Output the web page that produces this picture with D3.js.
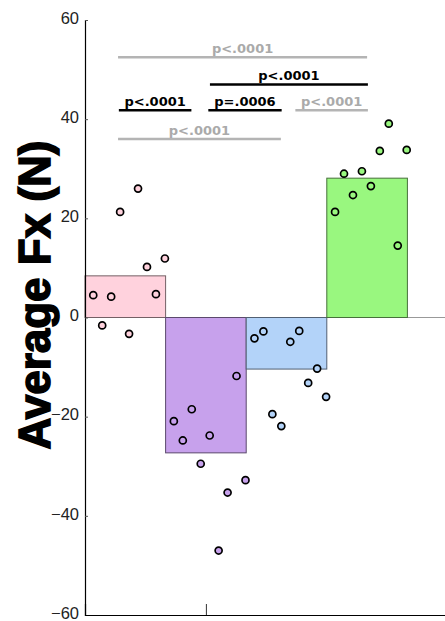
<!DOCTYPE html>
<html>
<head>
<meta charset="utf-8">
<script src="https://cdn.jsdelivr.net/npm/d3@7"></script>
<style>
  body { margin: 0; background: #fff; }
  svg { display: block; }
</style>
</head>
<body>
<script>
// Data
const groups = ["A", "B", "C", "D"];
const groupColors = ["#ffd2dd", "#c7a1ec", "#b3d3f9", "#99f77f"];
const barMeans = [8.4, -27.3, -10.4, 28.1];

// individual points, left to right inside each bar
const ptsA = [4.5, -1.6, 4.2, 21.3, -3.3, 26.0, 10.2, 4.7, 11.9];
const ptsB = [-20.9, -24.8, -18.5, -29.5, -23.8, -47.0, -35.3, -11.8, -32.8];
const ptsC = [-4.2, -2.8, -19.5, -21.9, -4.9, -2.7, -13.2, -10.3, -16.0];
const ptsD = [21.3, 29.0, 24.7, 29.5, 26.5, 33.6, 39.1, 14.5, 33.8];
const points = [ptsA, ptsB, ptsC, ptsD];

// significance brackets
const sigLabels = ["p<.0001", "p<.0001", "p<.0001", "p=.0006", "p<.0001", "p<.0001"];
const sigFrom = [0.91, 2.05, 0.92, 2.03, 3.11, 0.91];
const sigTo = [4.0, 4.01, 1.82, 2.94, 4.01, 2.93];
const sigLevel = [52.5, 47.0, 41.8, 41.8, 41.8, 36.0];
const sigStrong = [false, true, true, true, false, false];

const yTicks = [-60, -40, -20, 0, 20, 40, 60];

// Layout
const width = 445, height = 621;

const svg = d3.select("body").append("svg")
  .attr("width", width)
  .attr("height", height);

const x = d3.scaleLinear().domain([0.5, 5]).range([85, 447.7]);
const y = d3.scaleLinear().domain([-60, 60]).range([615, 20]);
const bw = x(1) - x(0);

// zero line
svg.append("line")
  .attr("x1", x(0.5)).attr("x2", width)
  .attr("y1", y(0)).attr("y2", y(0))
  .attr("stroke", "#999").attr("stroke-width", 1);

// bars
svg.selectAll("rect.bar")
  .data(barMeans)
  .join("rect")
  .attr("class", "bar")
  .attr("x", (d, i) => x(i + 0.5))
  .attr("width", bw)
  .attr("y", d => y(Math.max(0, d)))
  .attr("height", d => Math.abs(y(d) - y(0)))
  .attr("fill", (d, i) => groupColors[i])
  .attr("stroke", (d, i) => d3.color(groupColors[i]).darker(2.2))
  .attr("stroke-width", 1);

// points
points.forEach((vals, gi) => {
  svg.append("g").selectAll("circle")
    .data(vals)
    .join("circle")
    .attr("cx", (d, k) => x(gi + 0.5 + (k + 1) / 9) - 0.7)
    .attr("cy", d => y(d))
    .attr("r", 3.5)
    .attr("fill", groupColors[gi])
    .attr("stroke", "#000")
    .attr("stroke-width", 1.7);
});

// axes
const yAxis = d3.axisLeft(y).tickValues(yTicks).tickSize(-3).tickPadding(6);
const gy = svg.append("g").attr("transform", `translate(${x(0.5)},0)`).call(yAxis);
gy.select(".domain").attr("stroke", "#000").attr("stroke-width", 1.2);
gy.selectAll(".tick line").attr("stroke", "#555");
gy.selectAll(".tick text")
  .attr("dy", "0.2em")
  .attr("font-family", "'Liberation Sans', Arial, sans-serif")
  .attr("font-size", 16.5)
  .attr("fill", "#222");

const xAxis = d3.axisBottom(x).tickValues([2]).tickSize(-11).tickFormat("");
const gx = svg.append("g").attr("transform", `translate(0,${y(-60)})`).call(xAxis);
gx.select(".domain").attr("stroke", "#000").attr("stroke-width", 1.2);
gx.selectAll(".tick line").attr("stroke", "#333");

// y label
svg.append("text")
  .attr("transform", `translate(50,${295}) rotate(-90)`)
  .attr("text-anchor", "middle")
  .attr("font-family", "'Liberation Sans', Arial, sans-serif")
  .attr("font-weight", "bold")
  .attr("font-size", 44)
  .attr("stroke", "#000")
  .attr("stroke-width", 1.6)
  .attr("fill", "#000")
  .text("Average Fx (N)");

// significance lines + labels
const sig = svg.append("g");
sigLabels.forEach((lab, i) => {
  const c = sigStrong[i] ? "#000" : "#b4b4b4";
  sig.append("line")
    .attr("x1", x(sigFrom[i])).attr("x2", x(sigTo[i]))
    .attr("y1", y(sigLevel[i])).attr("y2", y(sigLevel[i]))
    .attr("stroke", c).attr("stroke-width", 2.6);
  sig.append("text")
    .attr("x", (x(sigFrom[i]) + x(sigTo[i])) / 2)
    .attr("y", y(sigLevel[i]) - 4.5)
    .attr("text-anchor", "middle")
    .attr("font-family", "'DejaVu Sans', Verdana, sans-serif")
    .attr("font-weight", "bold")
    .attr("font-size", 13)
    .attr("fill", sigStrong[i] ? "#000" : "#aaa")
    .text(lab);
});
</script>
</body>
</html>
